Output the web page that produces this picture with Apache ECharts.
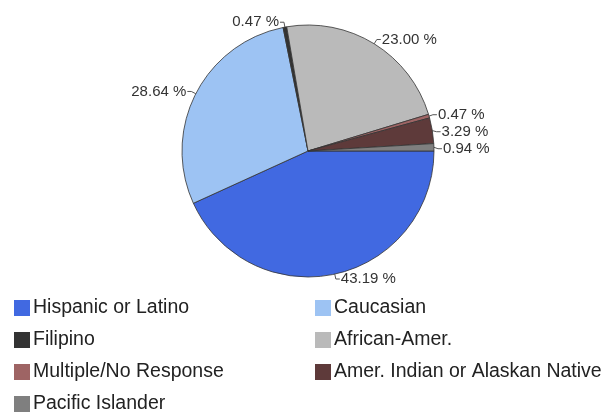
<!DOCTYPE html>
<html>
<head>
<meta charset="utf-8">
<script src="https://cdn.jsdelivr.net/npm/echarts@6/dist/echarts.min.js"></script>
<style>html,body{margin:0;padding:0;background:#fff}#c{width:616px;height:412px}</style>
</head>
<body>
<div id="c"></div>
<script>
var categories = ["Hispanic or Latino", "Caucasian", "Filipino", "African-Amer.", "Multiple/No Response", "Amer. Indian or Alaskan Native", "Pacific Islander"];
var values = [43.19, 28.64, 0.47, 23.00, 0.47, 3.29, 0.94];
var colors = ["#4169E1", "#9DC3F3", "#333333", "#BABABA", "#9E6464", "#5E3A3A", "#7F7F7F"];
var legendLeft = ["Hispanic or Latino", "Filipino", "Multiple/No Response", "Pacific Islander"];
var legendRight = ["Caucasian", "African-Amer.", "Amer. Indian or Alaskan Native"];

var chart = echarts.init(document.getElementById('c'));
var legendStyle = {
  orient: 'vertical', top: 293, height: 130, itemWidth: 16, itemHeight: 16, itemGap: 12,
  icon: 'rect',
  itemStyle: { borderWidth: 0 },
  textStyle: { fontFamily: 'Liberation Sans, Arial', fontSize: 19.5, color: '#222', padding: [0,0,0,-2] }
};
chart.setOption({
  animation: false,
  color: colors,
  legend: [
    Object.assign({ left: 9, data: legendLeft }, legendStyle),
    Object.assign({ left: 310, data: legendRight }, legendStyle)
  ],
  series: [{
    type: 'pie',
    center: [308, 151],
    radius: [0, 126],
    startAngle: 0,
    clockwise: true,
    avoidLabelOverlap: true,
    itemStyle: { borderColor: '#333', borderWidth: 0.8 },
    label: {
      show: true,
      formatter: function (p) { return p.value.toFixed(2) + ' %'; },
      fontFamily: 'Liberation Sans, Arial',
      fontSize: 15,
      color: '#333',
      distanceToLabelLine: 1
    },
    labelLine: { show: true, length: 5, length2: 4, lineStyle: { color: '#555', width: 1 } },
    emphasis: { disabled: true },
    data: categories.map(function (c, i) { return { name: c, value: values[i] }; })
  }]
});
</script>
</body>
</html>
